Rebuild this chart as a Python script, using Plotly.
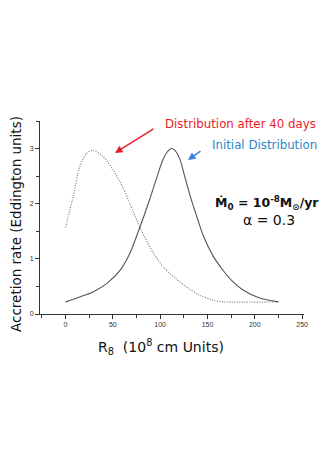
import plotly.graph_objects as go

# Initial distribution (solid)
r_initial = [0, 15, 29, 44, 58, 68, 77, 89, 95, 103, 108, 112, 116, 121, 126, 133, 140, 146, 156, 167, 176, 188, 205, 225]
rate_initial = [0.22, 0.31, 0.40, 0.56, 0.80, 1.10, 1.50, 2.08, 2.40, 2.80, 2.95, 3.00, 2.96, 2.80, 2.49, 2.07, 1.70, 1.40, 1.05, 0.78, 0.60, 0.43, 0.29, 0.22]

# Distribution after 40 days (dotted)
r_after = [0, 8, 15, 22, 29, 40, 50, 61, 68, 80, 93, 103, 114, 128, 142, 156, 167, 225]
rate_after = [1.57, 2.13, 2.67, 2.91, 2.97, 2.85, 2.62, 2.28, 2.00, 1.52, 1.10, 0.86, 0.68, 0.49, 0.34, 0.25, 0.22, 0.22]

x_ticks = [0, 50, 100, 150, 200, 250]
y_ticks = [0, 1, 2, 3]

fig = go.Figure()
fig.add_trace(go.Scatter(x=r_after, y=rate_after, mode="lines",
                         line=dict(color="#7a7a7a", width=1.2, dash="1px,1.5px", shape="spline", smoothing=0.8),
                         showlegend=False))
fig.add_trace(go.Scatter(x=r_initial, y=rate_initial, mode="lines",
                         line=dict(color="#555555", width=1.1, shape="spline", smoothing=0.8),
                         showlegend=False))

tickfont = dict(family="Liberation Sans, Arial", size=7, color="#333333")
fig.update_xaxes(range=[-27, 252], tickvals=x_ticks, ticks="outside", ticklen=4, tickcolor="#333",
                 showline=True, linecolor="#333", linewidth=1, showgrid=False, zeroline=False,
                 tickfont=tickfont,
                 minor=dict(dtick=25, tick0=0, ticks="outside", ticklen=3, tickcolor="#333"))
fig.update_yaxes(range=[0, 3.5], tickvals=y_ticks, ticks="outside", ticklen=4, tickcolor="#333",
                 showline=True, linecolor="#333", linewidth=1, showgrid=False, zeroline=False,
                 tickfont=tickfont,
                 minor=dict(dtick=0.5, tick0=0, ticks="outside", ticklen=3, tickcolor="#333"))

# page offset of the plot div (default body margin)
OFF = 8
W, H = 327 - OFF, 463 - OFF
# plot area in page pixels
PL, PR, PT, PB = 40, 304, 121, 314
L, R, T, B = PL - OFF, PR - OFF, PT - OFF, PB - OFF

font_main = "DejaVu Sans"
ann = []
ann.append(dict(text="Distribution after 40 days", x=163, y=124, xanchor="left",
                font=dict(family=font_main, size=11.8, color="#e8202a")))
ann.append(dict(text="Initial Distribution", x=210, y=145, xanchor="left",
                font=dict(family=font_main, size=11.8, color="#2f86c8")))
ann.append(dict(text="<b>Ṁ<sub>0</sub> = 10<sup>-8</sup>M<sub>⊙</sub>/yr</b>", x=213, y=203, xanchor="left",
                font=dict(family=font_main, size=12.5, color="#111111")))
ann.append(dict(text="α = 0.3", x=269, y=220, xanchor="center",
                font=dict(family=font_main, size=14, color="#111111")))
ann.append(dict(text="Accretion rate (Eddington units)", x=16, y=224, textangle=-90, xanchor="center",
                font=dict(family=font_main, size=13.5, color="#111111")))
ann.append(dict(text="R<sub>8</sub>  (10<sup>8</sup> cm Units)", x=161, y=347, xanchor="center",
                font=dict(family=font_main, size=14, color="#111111")))

out = []
for a in ann:
    px, py = a["x"] - OFF, a["y"] - OFF
    a["x"] = (px - L) / (R - L)
    a["y"] = (B - py) / (B - T)
    a["xref"] = "paper"
    a["yref"] = "paper"
    a["yanchor"] = "middle"
    a["showarrow"] = False
    out.append(a)

def arrow(x0, y0, x1, y1, color):
    x1 -= OFF; y1 -= OFF; x0 -= OFF; y0 -= OFF
    return dict(x=(x1 - L) / (R - L), y=(B - y1) / (B - T), ax=x0 - x1, ay=y0 - y1,
                xref="paper", yref="paper", axref="pixel", ayref="pixel", text="",
                showarrow=True, arrowhead=2, arrowsize=1, arrowwidth=1.5, arrowcolor=color)

out.append(arrow(155, 128, 115, 153, "#e8202a"))
out.append(arrow(202, 150, 188, 160, "#3b7fd6"))

fig.update_layout(width=W, height=H, margin=dict(l=L, r=W - R, t=T, b=H - B),
                  paper_bgcolor="white", plot_bgcolor="white", annotations=out)

fig.write_html("out.html")
